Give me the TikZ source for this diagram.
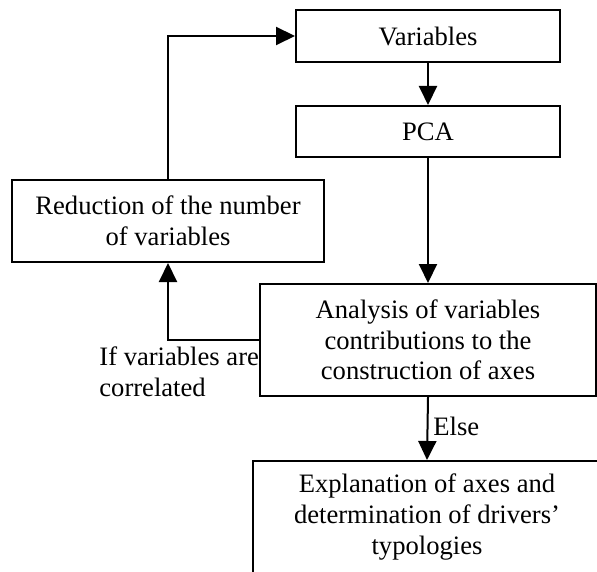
\documentclass[tikz,border=0pt]{standalone}
\usepackage{fontspec}
\setmainfont{Liberation Serif}
\usetikzlibrary{arrows.meta}

\begin{document}
\begin{tikzpicture}[
  x=0.5pt, y=-0.5pt,
  box/.style={draw=black, line width=1pt, align=center, inner sep=0pt,
              font=\fontsize{13.3}{15.3}\selectfont},
  lbl/.style={inner sep=0pt, align=left, font=\fontsize{13.3}{15.3}\selectfont},
  arr/.style={-{Triangle[length=9.5pt, width=9pt]}, line width=1pt, draw=black}
]
  \clip (0,0) rectangle (597,571);

  % Nodes
  \node[box, minimum width=132pt, minimum height=26pt]   (vars)  at (428,36)    {Variables};
  \node[box, minimum width=132pt, minimum height=25.5pt] (pca)   at (428,131.5) {PCA};
  \node[box, minimum width=156pt, minimum height=41pt]   (reduc) at (168,221)   {Reduction of the number\\of variables};
  \node[box, minimum width=168pt, minimum height=56pt]   (anal)  at (428,340)   {Analysis of variables\\contributions to the\\construction of axes};
  \node[box, minimum width=174pt, minimum height=56pt]   (expl)  at (427,517)   {Explanation of axes and\\determination of drivers'\\typologies};

  % Main flow
  \draw[arr] (vars.south) -- (pca.north);
  \draw[arr] (pca.south) -- (anal.north);
  \draw[arr] (anal.south) -- (expl.north);

  % Feedback loop
  \draw[arr] (anal.west) -| (reduc.south);
  \draw[arr] (reduc.north) |- (vars.west);

  % Labels
  \node[lbl, anchor=north west] (corr) at (99,346.5) {If variables are\\correlated};
  \node[lbl, anchor=base west]  (else) at (433,435)  {Else};
\end{tikzpicture}
\end{document}
